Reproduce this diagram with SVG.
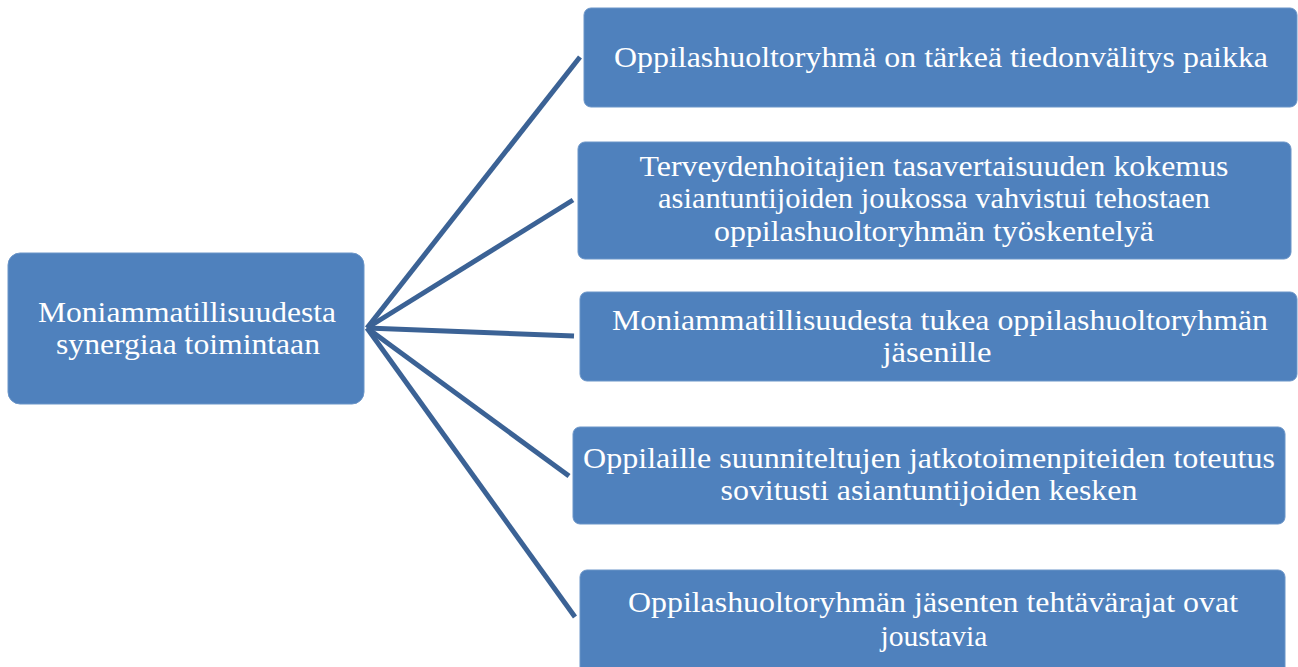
<svg xmlns="http://www.w3.org/2000/svg" width="1298" height="667" viewBox="0 0 1298 667">
<style>
.box{fill:#4f81bd;stroke:#6b95c8;stroke-width:1}
.t{font-family:"Liberation Serif","Times New Roman",serif;font-size:29px;fill:#ffffff;text-anchor:middle}
.c{stroke:#3b6295;stroke-width:5;fill:none;stroke-linecap:butt}
</style>
<rect width="1298" height="667" fill="#ffffff"/>
<g id="connectors">
<line class="c" x1="367" y1="328" x2="580" y2="57"/>
<line class="c" x1="367" y1="328" x2="573" y2="200"/>
<line class="c" x1="367" y1="328" x2="574" y2="336"/>
<line class="c" x1="367" y1="328" x2="569" y2="476"/>
<line class="c" x1="367" y1="328" x2="575" y2="617"/>
</g>
<g id="root">
<rect class="box" x="8" y="253" width="356" height="151" rx="12"/>
<text class="t" x="187" y="322" textLength="298" lengthAdjust="spacingAndGlyphs">Moniammatillisuudesta</text>
<text class="t" x="188" y="354" textLength="264" lengthAdjust="spacingAndGlyphs">synergiaa toimintaan</text>
</g>
<g id="n1">
<rect class="box" x="584" y="8" width="713" height="99" rx="7"/>
<text class="t" x="941" y="67" textLength="654" lengthAdjust="spacingAndGlyphs">Oppilashuoltoryhmä on tärkeä tiedonvälitys paikka</text>
</g>
<g id="n2">
<rect class="box" x="578" y="142" width="713" height="117" rx="7"/>
<text class="t" x="934" y="176" textLength="589" lengthAdjust="spacingAndGlyphs">Terveydenhoitajien tasavertaisuuden kokemus</text>
<text class="t" x="934" y="208" textLength="552" lengthAdjust="spacingAndGlyphs">asiantuntijoiden joukossa vahvistui tehostaen</text>
<text class="t" x="934" y="241" textLength="440" lengthAdjust="spacingAndGlyphs">oppilashuoltoryhmän työskentelyä</text>
</g>
<g id="n3">
<rect class="box" x="580" y="292" width="717" height="89" rx="7"/>
<text class="t" x="940" y="330" textLength="656" lengthAdjust="spacingAndGlyphs">Moniammatillisuudesta tukea oppilashuoltoryhmän</text>
<text class="t" x="937" y="362" textLength="109" lengthAdjust="spacingAndGlyphs">jäsenille</text>
</g>
<g id="n4">
<rect class="box" x="573" y="427" width="712" height="97" rx="7"/>
<text class="t" x="929" y="468" textLength="692" lengthAdjust="spacingAndGlyphs">Oppilaille suunniteltujen jatkotoimenpiteiden toteutus</text>
<text class="t" x="929" y="500" textLength="417" lengthAdjust="spacingAndGlyphs">sovitusti asiantuntijoiden kesken</text>
</g>
<g id="n5">
<rect class="box" x="580" y="570" width="705" height="104" rx="7"/>
<text class="t" x="933" y="612" textLength="610" lengthAdjust="spacingAndGlyphs">Oppilashuoltoryhmän jäsenten tehtävärajat ovat</text>
<text class="t" x="934" y="646" textLength="107" lengthAdjust="spacingAndGlyphs">joustavia</text>
</g>
</svg>
